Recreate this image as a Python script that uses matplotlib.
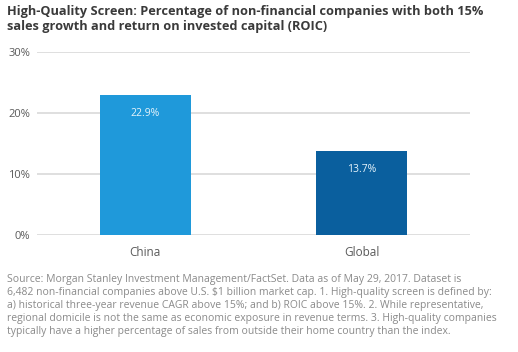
import matplotlib
matplotlib.use("Agg")
import matplotlib.pyplot as plt
from matplotlib.ticker import FuncFormatter

# data
regions = ["China", "Global"]
share = [22.9, 13.7]
bar_colors = ["#1f99da", "#0a5f9e"]
y_ticks = [0, 10, 20, 30]

title = ("High-Quality Screen: Percentage of non-financial companies with both 15%\n"
         "sales growth and return on invested capital (ROIC)")
footnote = ("Source: Morgan Stanley Investment Management/FactSet. Data as of May 29, 2017. Dataset is\n"
            "6,482 non-financial companies above U.S. $1 billion market cap. 1. High-quality screen is defined by:\n"
            "a) historical three-year revenue CAGR above 15%; and b) ROIC above 15%. 2. While representative,\n"
            "regional domicile is not the same as economic exposure in revenue terms. 3. High-quality companies\n"
            "typically have a higher percentage of sales from outside their home country than the index.")

plt.rcParams['font.family'] = ['Open Sans', 'DejaVu Sans']

fig = plt.figure(figsize=(5.18, 3.52), dpi=100)
ax = fig.add_axes([0.0714, 0.3324, 0.836, 0.52])

x = range(len(regions))
bars = ax.bar(x, share, width=0.42, color=bar_colors, zorder=3)

for b, v in zip(bars, share):
    ax.annotate(f"{v:.1f}%", (b.get_x() + b.get_width() / 2, v),
                xytext=(0, -13), textcoords="offset points",
                ha="center", va="center", fontsize=7.5, color="#e6f4fb", zorder=4)

ax.set_xlim(-0.5, 1.5)
ax.set_ylim(0, 30)
ax.set_yticks(y_ticks)
ax.yaxis.set_major_formatter(FuncFormatter(lambda v, _: f"{v:.0f}%"))
ax.set_xticks(list(x))
ax.set_xticklabels(regions)
ax.grid(axis="y", color="#d9d9d9", linewidth=1.2, zorder=0)
ax.tick_params(length=0, colors="#5a5a5a", labelsize=8)
ax.tick_params(axis="x", pad=8, labelsize=8.5)
ax.tick_params(axis="y", pad=5)
for s in ax.spines.values():
    s.set_visible(False)

fig.text(0.013, 0.985, title, ha="left", va="top", fontsize=9.2,
         fontweight="bold", color="#3a3a3a", linespacing=1.2)
fig.text(0.013, 0.222, footnote, ha="left", va="top", fontsize=7.5,
         color="#8a8a8a", linespacing=1.27)

fig.savefig("out.png", dpi=100)
